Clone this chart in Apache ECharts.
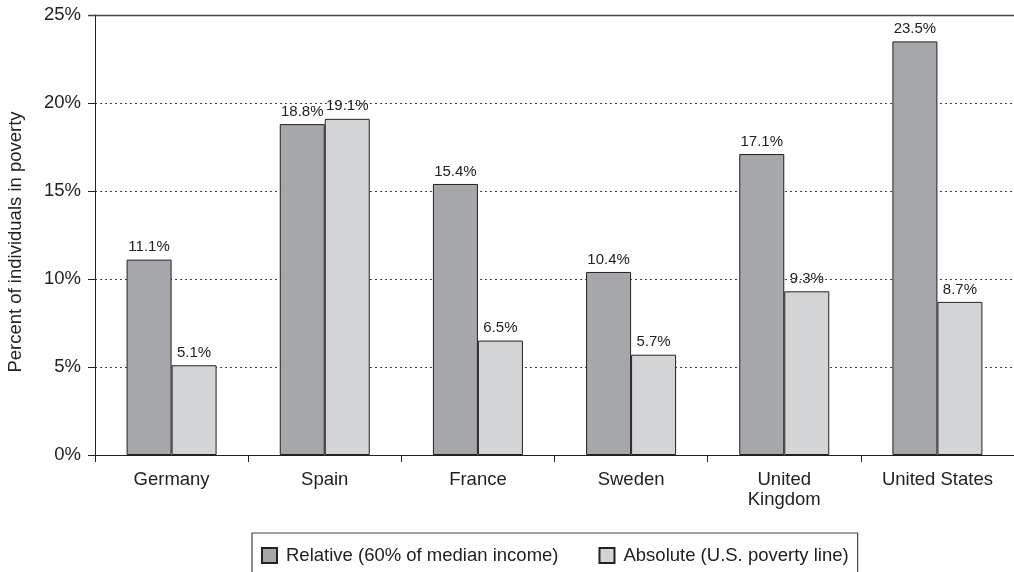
<!DOCTYPE html>
<html><head><meta charset="utf-8">
<script src="https://cdn.jsdelivr.net/npm/echarts@6/dist/echarts.min.js"></script>
<style>html,body{margin:0;padding:0;background:#fff}#c{width:1014px;height:572px}</style>
</head><body><div id="c"></div>
<script>
const categories = ['Germany', 'Spain', 'France', 'Sweden', 'United\nKingdom', 'United States'];
const relative = [11.1, 18.8, 15.4, 10.4, 17.1, 23.5];
const absolute = [5.1, 19.1, 6.5, 5.7, 9.3, 8.7];
const seriesNames = ['Relative (60% of median income)', 'Absolute (U.S. poverty line)'];
const yTicks = [0, 5, 10, 15, 20, 25];
const yAxisTitle = 'Percent of individuals in poverty';

const font = 'Liberation Sans, Arial, Helvetica, sans-serif';
const chart = echarts.init(document.getElementById('c'));
const labelCfg = {show: true, position: 'top', distance: 5, fontFamily: font, fontSize: 15, color: '#222', formatter: p => p.value.toFixed(1) + '%'};
chart.setOption({
  animation: false,
  backgroundColor: '#fff',
  grid: {left: 95, right: 0, top: 15, bottom: 117, containLabel: false, outerBoundsMode: 'none'},
  legend: {
    data: seriesNames, left: 252, top: 533,
    padding: [13, 9, 13, 9], borderColor: '#444', borderWidth: 1.2,
    itemWidth: 15, itemHeight: 15, itemGap: 40,
    icon: 'rect',
    textStyle: {fontFamily: font, fontSize: 18.5, color: '#222', padding: [0, 0, 0, 4]}
  },
  xAxis: {
    type: 'category', data: categories,
    axisLine: {lineStyle: {color: '#222', width: 1}},
    axisTick: {show: true, length: 7, lineStyle: {color: '#222'}},
    axisLabel: {fontFamily: font, fontSize: 18.5, color: '#222', margin: 15, lineHeight: 20}
  },
  yAxis: {
    type: 'value', min: 0, max: 25, interval: 5,
    name: yAxisTitle, nameLocation: 'middle', nameGap: 70, nameRotate: 90,
    nameTextStyle: {fontFamily: font, fontSize: 18.5, color: '#222', padding: [0, 14, 0, 0]},
    axisLine: {show: true, lineStyle: {color: '#222'}},
    axisTick: {show: true, length: 7, lineStyle: {color: '#222'}},
    axisLabel: {fontFamily: font, fontSize: 18.5, color: '#222', margin: 14, formatter: v => yTicks.includes(v) ? v + '%' : ''},
    splitLine: {show: true, lineStyle: {color: '#444', type: [2, 3], width: 1}}
  },
  series: [
    {name: seriesNames[0], type: 'bar', data: relative, barWidth: 45, barGap: '0%',
     itemStyle: {color: '#a6a7ab', borderColor: '#222', borderWidth: 1}, label: labelCfg},
    {name: seriesNames[1], type: 'bar', data: absolute, barWidth: 45, barGap: '0%',
     itemStyle: {color: '#d3d4d6', borderColor: '#222', borderWidth: 1}, label: labelCfg}
  ],
  graphic: [
    {type: 'line', shape: {x1: 88, y1: 15.5, x2: 1014, y2: 15.5}, style: {stroke: '#444', lineWidth: 1.5}, z: 10}
  ]
});
</script></body></html>
